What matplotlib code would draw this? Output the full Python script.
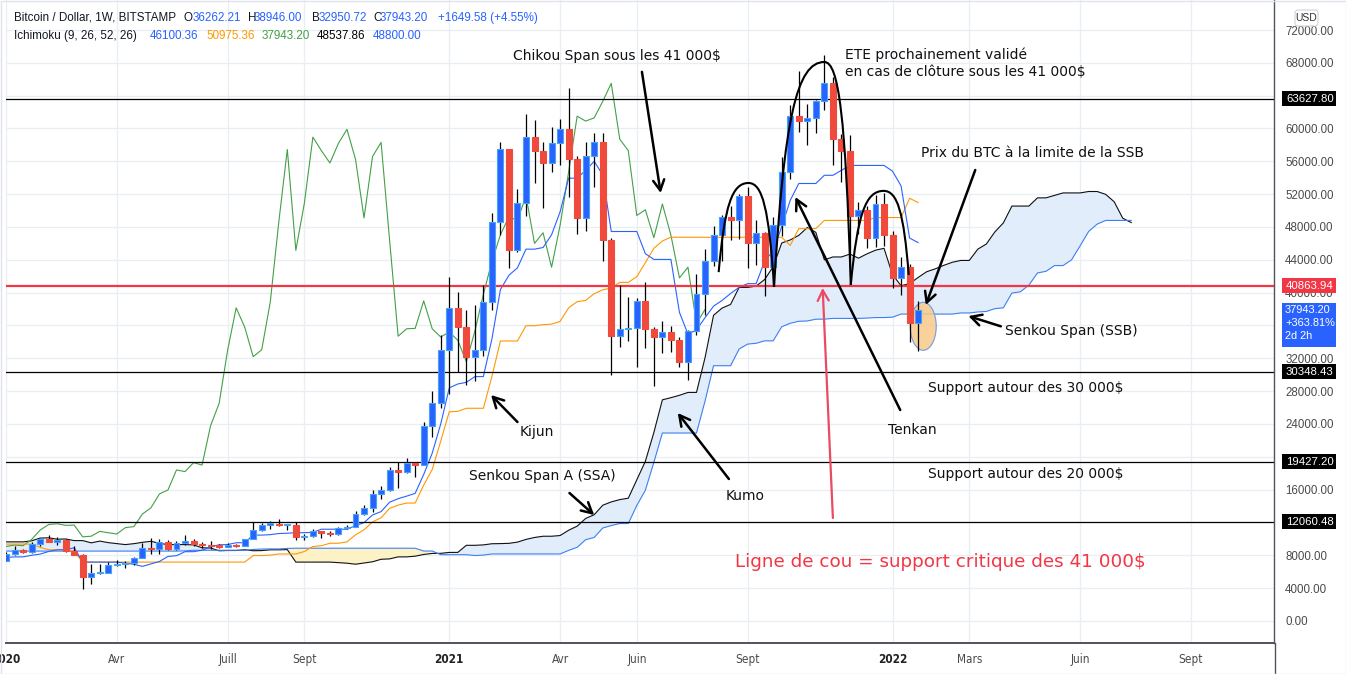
import numpy as np
import matplotlib
matplotlib.use("Agg")
import matplotlib.pyplot as plt
from matplotlib.patches import Rectangle, Ellipse, PathPatch, FancyBboxPatch
from matplotlib.path import Path
from matplotlib.transforms import IdentityTransform

# ---------------- DATA ----------------
# weekly highs / lows 2018-07-16 .. 2019-12-30 (history used by the Ichimoku windows)
pre_high = [7600, 8500, 8250, 7150, 6600, 6850, 7140, 7400, 6600, 6850, 6800, 6650, 6700,
            6800, 6600, 6550, 6600, 6500, 5600, 4400, 4250, 3600, 4300, 4250, 4100,
            4100, 3750, 3650, 3600, 3700, 3700, 4200, 3950, 3950, 4050, 4100, 4150,
            5350, 5450, 5450, 5650, 5900, 7400, 8350, 8100, 9050, 8200, 9400, 11200, 13880,
            12000, 13200, 11100, 10650, 11200, 12300, 11500, 10950, 10650, 10900, 10500,
            10300, 10050, 8500, 8820, 8400, 10350, 9600, 9500, 9050, 8200, 7850, 7750,
            7650, 7550, 7700, 7500]
pre_low = [6650, 7350, 6900, 6100, 5880, 6250, 6700, 6200, 6120, 6150, 6450, 6450, 6150,
           6450, 6400, 6250, 6350, 5250, 3550, 3700, 3250, 3150, 3200, 3550, 3650,
           3500, 3500, 3450, 3350, 3350, 3550, 3650, 3700, 3680, 3800, 3950, 3900,
           4100, 4950, 5000, 5050, 5150, 5600, 6650, 7450, 7450, 7450, 7750, 9000, 10300,
           9650, 10950, 9100, 9100, 9400, 11000, 9450, 9850, 9320, 9650, 9900,
           9650, 7800, 7800, 7850, 7900, 7300, 8900, 8550, 8000, 6800, 6500, 7100,
           7050, 6430, 7050, 6850]

# weekly candles BTC/USD Bitstamp, 2020-01-06 .. 2022-01-24
opens = [7350, 8180, 8650, 8400, 9350, 9950, 9680, 9850, 8550, 8030,
         5360, 5830, 5900, 6780, 6900, 7120, 7700, 8900, 8720, 9680,
         8720, 9450, 9750, 9330, 9300, 9140, 9070, 9250, 9170, 9930,
         11070, 11750, 11850, 11650, 11680, 10250, 10330, 10920, 10750, 10600,
         11370, 11500, 13030, 13780, 15480, 15960, 18400, 18200, 19290, 19000,
         23800, 26500, 33000, 38150, 35800, 32200, 33050, 38850, 48600, 57450,
         45150, 50900, 58950, 57300, 55800, 58200, 59900, 56250, 49100, 56600,
         58300, 46400, 34700, 35600, 35650, 39000, 35600, 34600, 35200, 34200,
         31600, 35300, 39800, 43800, 47050, 49250, 48800, 51800, 46000, 47300,
         43100, 48200, 54700, 61500, 60900, 61300, 63300, 65500, 58700, 57300,
         49400, 50100, 46700, 50800, 47000, 41800, 43100, 36262.21]
highs = [8460, 9190, 8770, 9570, 9870, 10500, 10250, 9960, 9190, 8180,
         6950, 6950, 7200, 7470, 7290, 7760, 9460, 10050, 9940, 9830,
         9760, 10430, 10000, 9600, 9790, 9330, 9460, 9360, 10010, 12100,
         11900, 12200, 12480, 11800, 12100, 10550, 11170, 11000, 10950, 11480,
         11720, 13350, 14100, 15950, 16500, 18800, 19400, 19900, 19400, 24300,
         28000, 34800, 41950, 40100, 37850, 38500, 40900, 49700, 58350, 57500,
         52600, 61800, 61000, 58400, 60200, 61200, 64900, 56700, 58400, 59500,
         59500, 46600, 40900, 39500, 39300, 41300, 35800, 36600, 35900, 34600,
         35500, 42300, 45300, 48100, 49500, 50500, 52000, 52900, 48800, 47400,
         49200, 56500, 62900, 67000, 63000, 63500, 69000, 66300, 59300, 59250,
         51000, 50500, 51900, 52100, 47500, 44400, 43500, 38946.00]
lows = [7340, 8100, 8240, 8300, 9150, 9650, 9300, 8450, 8000, 3850,
        4450, 5670, 5860, 6750, 6460, 6800, 7640, 8130, 8200, 8630,
        8650, 9270, 9100, 8950, 8830, 8900, 9050, 9030, 9130, 9930,
        11000, 11150, 11520, 11110, 9880, 9880, 10250, 10150, 10400, 10520,
        11200, 11400, 12900, 13220, 14850, 15800, 16200, 18000, 17600, 19000,
        22400, 25900, 27700, 30300, 28800, 29200, 32300, 37900, 47000, 43000,
        44900, 49300, 53300, 50300, 54700, 55500, 51600, 47100, 47500, 52900,
        43800, 30000, 33400, 34150, 31000, 33300, 28600, 32700, 32800, 31000,
        29300, 34800, 37300, 43200, 43900, 46400, 46500, 43000, 43400, 39600,
        40800, 46900, 53800, 59600, 58000, 59500, 62300, 55600, 53500, 42000,
        47100, 45500, 45600, 45700, 40600, 39700, 34000, 32950.72]
closes = [8180, 8650, 8400, 9350, 9950, 9680, 9850, 8550, 8030, 5360,
          5830, 5900, 6780, 6900, 7120, 7700, 8900, 8720, 9680, 8720,
          9450, 9750, 9330, 9300, 9140, 9070, 9250, 9170, 9930, 11070,
          11750, 11850, 11650, 11680, 10250, 10330, 10920, 10750, 10600, 11370,
          11500, 13030, 13780, 15480, 15960, 18400, 18200, 19290, 19000, 23800,
          26500, 33000, 38150, 35800, 32200, 33050, 38850, 48600, 57450, 45150,
          50900, 58950, 57300, 55800, 58200, 59900, 56250, 49100, 56600, 58300,
          46400, 34700, 35600, 35650, 39000, 35600, 34600, 35200, 34200, 31600,
          35300, 39800, 43800, 47050, 49250, 48800, 51800, 46000, 47300, 43100,
          48200, 54700, 61500, 60900, 61300, 63300, 65500, 58700, 57300, 49400,
          50100, 46700, 50800, 47000, 41800, 43100, 36262.21, 37943.20]

support_levels = [63627.80, 30348.43, 19427.20, 12060.48]
neckline = 40863.94
last_close = 37943.20
month_ticks = [0, 13, 26, 35, 52, 65, 74, 87, 104, 113, 126, 139]
month_labels = ['2020', 'Avr', 'Juill', 'Sept', '2021', 'Avr', 'Juin', 'Sept',
                '2022', 'Mars', 'Juin', 'Sept']
price_ticks = list(range(0, 72001, 4000))
hidden_ticks = [12000, 20000, 36000, 64000]

# ---------------- ICHIMOKU (9, 26, 52, 26) ----------------
fh = np.array(pre_high + highs, float)
fl = np.array(pre_low + lows, float)
P = len(pre_high)
N = len(closes)
SHIFT = 25


def mid(period, j):
    return (fh[j - period + 1:j + 1].max() + fl[j - period + 1:j + 1].min()) / 2


xs = np.arange(N)
tenkan = np.array([mid(9, P + i) for i in xs])
kijun = np.array([mid(26, P + i) for i in xs])
lead_x = np.arange(N + SHIFT)
ssa = np.array([(mid(9, P + k - SHIFT) + mid(26, P + k - SHIFT)) / 2 for k in lead_x])
ssb = np.array([mid(52, P + k - SHIFT) for k in lead_x])
chikou_x = np.arange(N - SHIFT)
chikou = np.array(closes[SHIFT:])

# ---------------- FIGURE ----------------
W, H = 1346, 674
fig = plt.figure(figsize=(W / 100, H / 100), dpi=100)
fig.patch.set_facecolor('white')
AX_L, AX_R, AX_T, AX_B = 6, 1274, 0, 643
ax = fig.add_axes([AX_L / W, 1 - AX_B / H, (AX_R - AX_L) / W, (AX_B - AX_T) / H])
PXW = 8.538          # pixels per week
X0 = 4.0             # pixel of first candle
PPP = 121.83         # price per pixel
ax.set_xlim((AX_L - X0) / PXW, (AX_R - X0) / PXW)
ax.set_ylim(72000 - (AX_B - 30) * PPP, 72000 - (AX_T - 30) * PPP)

BLUE = '#2962ff'
RED = '#ef4a3c'
ORANGE = '#ff9800'
GREEN = '#43a047'

# grid
ax.set_yticks(price_ticks)
ax.set_xticks(month_ticks)
ax.grid(True, color='#e9eef5', lw=0.9, zorder=0)
ax.set_axisbelow(True)

# cloud
ax.fill_between(lead_x, ssa, ssb, where=ssa >= ssb, interpolate=True,
                color='#e1edfb', lw=0, zorder=1)
ax.fill_between(lead_x, ssa, ssb, where=ssa < ssb, interpolate=True,
                color='#fdf1c6', lw=0, zorder=1)
ax.plot(lead_x, ssa, color='#111111', lw=0.8, zorder=2)
ax.plot(lead_x, ssb, color='#3d7ff0', lw=0.8, zorder=2)
ax.plot(chikou_x, chikou, color=GREEN, lw=0.8, zorder=2)
ax.plot(xs, kijun, color=ORANGE, lw=0.8, zorder=2)
ax.plot(xs, tenkan, color=BLUE, lw=0.8, zorder=2)

# horizontal levels
for lv in support_levels:
    ax.axhline(lv, color='black', lw=0.9, zorder=2.5)
ax.axhline(neckline, color='#f23645', lw=1.6, zorder=2.5)

# ellipse around last candles
ax.add_patch(Ellipse((107.6, 35900), 3.05, 5850, facecolor='#f8c98a', alpha=0.85,
                     edgecolor='#5b8ee8', lw=0.8, zorder=2.6))

# candles
BW = 0.7
for i in xs:
    o, h, l, c = opens[i], highs[i], lows[i], closes[i]
    ax.plot([i, i], [l, h], color='black', lw=0.9, zorder=3, solid_capstyle='butt')
    up = c >= o
    lo = min(o, c)
    ht = max(abs(c - o), 130)
    ax.add_patch(Rectangle((i - BW / 2, lo), BW, ht,
                           facecolor=BLUE if up else RED,
                           edgecolor='#45a3f5' if up else RED,
                           lw=0.8, zorder=3.5))


# ---------------- ANNOTATIONS ----------------
def arrow(tail, head, color='black', lw=1.8):
    ax.annotate('', xy=head, xytext=tail,
                arrowprops=dict(arrowstyle='->,head_length=0.75,head_width=0.4',
                                color=color, lw=lw, shrinkA=0, shrinkB=0),
                zorder=5)


def arch(p0, peak, p1, lw=1.5):
    verts = [p0,
             (p0[0] + 0.2 * (peak[0] - p0[0]), p0[1] + 0.75 * (peak[1] - p0[1])),
             (peak[0] - 0.55 * (peak[0] - p0[0]), peak[1]),
             peak,
             (peak[0] + 0.55 * (p1[0] - peak[0]), peak[1]),
             (p1[0] - 0.2 * (p1[0] - peak[0]), p1[1] + 0.75 * (peak[1] - p1[1])),
             p1]
    codes = [Path.MOVETO] + [Path.CURVE4] * 6
    ax.add_patch(PathPatch(Path(verts, codes), fill=False, color='black', lw=lw, zorder=4.5))


arch((83.6, 42500), (87.1, 53360), (90.1, 40700))
arch((90.1, 40700), (96.0, 68100), (99.1, 40930))
arch((99.1, 40930), (102.95, 52400), (105.9, 42150))

TXT = dict(fontsize=10, color='#111111', va='center', ha='left', zorder=6,
           family='DejaVu Sans')
ax.text(59.5, 68830, 'Chikou Span sous les 41 000$', **TXT)
arrow((74.6, 66900), (76.8, 52140))
ax.text(98.4, 68950, 'ETE prochainement validé', **TXT)
ax.text(98.4, 66880, 'en cas de clôture sous les 41 000$', **TXT)
ax.text(107.3, 57000, 'Prix du BTC à la limite de la SSB', **TXT)
arrow((113.7, 54940), (107.9, 38500))
ax.text(117.2, 35330, 'Senkou Span (SSB)', **TXT)
arrow((116.7, 35900), (112.9, 37150))
ax.text(108.2, 28380, 'Support autour des 30 000$', **TXT)
ax.text(103.5, 23270, 'Tenkan', **TXT)
arrow((104.9, 25700), (92.6, 51650))
ax.text(108.2, 17900, 'Support autour des 20 000$', **TXT)
ax.text(84.4, 15230, 'Kumo', **TXT)
arrow((84.8, 17300), (78.8, 25340))
ax.text(60.3, 23020, 'Kijun', **TXT)
arrow((60.0, 24240), (56.9, 27530))
ax.text(54.3, 17660, 'Senkou Span A (SSA)', **TXT)
arrow((66.1, 15590), (69.0, 12910))
ax.text(85.5, 7190, 'Ligne de cou = support critique des 41 000$', fontsize=13.2,
        color='#f23645', va='center', ha='left', zorder=6, family='DejaVu Sans')
arrow((97.0, 12550), (95.8, 40570), color='#ea4a62', lw=1.6)

# ---------------- AXES STYLE ----------------
for s in ['top', 'left']:
    ax.spines[s].set_visible(False)
ax.spines['bottom'].set_color('#50535e')
ax.spines['bottom'].set_linewidth(1.4)
ax.spines['right'].set_color('#50535e')
ax.spines['right'].set_linewidth(1.0)
ax.yaxis.tick_right()
ax.tick_params(axis='y', length=0, pad=8, labelsize=8.3, labelcolor='#4a4a4a')
ax.tick_params(axis='x', length=0, pad=7, labelsize=8.5, labelcolor='#4a4a4a')
ax.set_yticklabels(['' if t in hidden_ticks else f'{t:.2f}' for t in price_ticks],
                   family='Liberation Sans')
ax.set_xticklabels(month_labels, family='DejaVu Sans', stretch='condensed')
for lab in ax.get_xticklabels():
    if lab.get_text() in ('2020', '2021', '2022'):
        lab.set_fontweight('bold')
        lab.set_color('#222222')

ID = IdentityTransform()


def ydisp(price):
    return ax.transData.transform((0, price))[1]


def price_box(price, text, fc):
    y = ydisp(price)
    fig.patches.append(Rectangle((1282, y - 7.5), 54, 15, facecolor=fc, edgecolor='none',
                                 transform=ID, zorder=5))
    fig.text(1286, y, text, color='white', fontsize=8.2, va='center', ha='left',
             transform=ID, family='Liberation Sans', zorder=6)


for lv in support_levels:
    price_box(lv, f'{lv:.2f}', '#000000')
price_box(neckline, f'{neckline:.2f}', '#f23645')

yb = ydisp(last_close)
fig.patches.append(Rectangle((1282, yb - 37), 54, 44, facecolor=BLUE, edgecolor='none',
                             transform=ID, zorder=5))
for k, s in enumerate([f'{last_close:.2f}', '+363.81%', '2d 2h']):
    fig.text(1285, yb - 13 * k, s, color='white', fontsize=7.9, va='center', ha='left',
             transform=ID, family='Liberation Sans', zorder=6)

# USD badge
fig.patches.append(FancyBboxPatch((1295, H - 26), 23, 16, boxstyle='round,pad=0,rounding_size=3',
                                  facecolor='white', edgecolor='#cfd3dc', lw=0.8,
                                  transform=ID, zorder=6))
fig.text(1306.5, H - 18, 'USD', fontsize=7.5, color='#333333', ha='center', va='center',
         transform=ID, family='Liberation Sans', zorder=7)

# vertical separator continues into the time scale
fig.add_artist(plt.Line2D([AX_R + 0.5, AX_R + 0.5], [H - 674, H - AX_B], color='#50535e',
                          lw=1.0, transform=ID))

# legend lines
LG = dict(fontsize=8.4, va='center', ha='left', transform=ID, family='Liberation Sans')
y1, y2 = H - 18, H - 36
fig.text(14, y1, 'Bitcoin / Dollar, 1W, BITSTAMP', color='#131722', **LG)
for xl, lab, xv, val in [(184, 'O', 193, '36262.21'), (248, 'H', 254, '38946.00'),
                         (312, 'B', 319, '32950.72'), (373, 'C', 380, '37943.20')]:
    fig.text(xl, y1, lab, color='#131722', **LG)
    fig.text(xv, y1, val, color=BLUE, **LG)
fig.text(438, y1, '+1649.58 (+4.55%)', color=BLUE, **LG)
fig.text(14, y2, 'Ichimoku (9, 26, 52, 26)', color='#131722', **LG)
for xv, val, col in [(150, '46100.36', BLUE), (206, '50975.36', ORANGE),
                     (262, '37943.20', GREEN), (317, '48537.86', '#000000'),
                     (373, '48800.00', BLUE)]:
    fig.text(xv, y2, val, color=col, **LG)

# outer frame
fig.patches.append(Rectangle((0.5, 0.5), W - 1, H - 1, fill=False, edgecolor='#e0e3eb',
                             lw=1.0, transform=ID, zorder=10))

fig.savefig('out.png', dpi=100)
